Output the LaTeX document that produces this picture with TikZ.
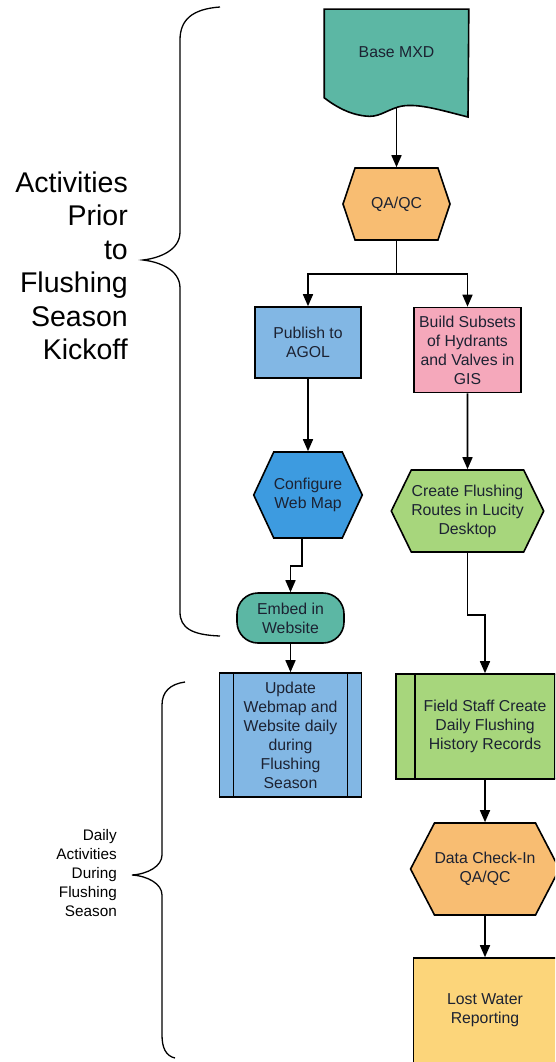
\documentclass[tikz,border=0pt]{standalone}
\usepackage{fontspec}
\setmainfont{Liberation Sans}
\usepackage{xcolor}
\usepackage{tikz}
\usetikzlibrary{shapes.symbols, arrows.meta, positioning, calc}
\definecolor{tealfill}{RGB}{92, 183, 164}
\definecolor{orangefill}{RGB}{248, 189, 114}
\definecolor{lightbluefill}{RGB}{130, 183, 228}
\definecolor{bluefill}{RGB}{61, 155, 224}
\definecolor{pinkfill}{RGB}{245, 168, 187}
\definecolor{greenfill}{RGB}{167, 214, 124}
\definecolor{yellowfill}{RGB}{252, 213, 122}
\definecolor{textdark}{RGB}{28, 34, 50}

\begin{document}
\begin{tikzpicture}[x=1pt, y=-1pt,
    flowbox/.style={
        rectangle, draw=black, line width=1.6pt, text=textdark,
        align=center, inner sep=0pt, font=\fontsize{15.8}{19}\selectfont
    },
    hexbox/.style={
        flowbox, shape=signal, signal to=west and east, signal pointer angle=#1
    },
    termbox/.style={flowbox, rounded corners=21pt},
    predbox/.style={
        flowbox,
        path picture={
            \draw [line width=1.6pt]
                ([xshift=#1]path picture bounding box.north west) --
                ([xshift=#1]path picture bounding box.south west)
                ([xshift=-#1]path picture bounding box.north east) --
                ([xshift=-#1]path picture bounding box.south east);
        }
    },
    sidelabel/.style={anchor=east, align=right, inner sep=0pt, text=black},
    brace/.style={draw=black, line width=1.3pt},
    arrow/.style={-{Triangle[length=12pt, width=10pt]}, line width=1.6pt}
]
    \useasboundingbox (0,0) rectangle (555,1062);
    \begin{scope}
    \clip (0,0) rectangle (555,1062);

    % base document
    \node [flowbox, draw=none, minimum width=143pt, minimum height=87pt] (base) at (396.5,53.5) {};
    \filldraw [fill=tealfill, line width=1.6pt]
        (base.south west) -- (base.north west) -- (base.north east) -- (468,117)
        .. controls (440,110) and (415,102) .. (398,107)
        .. controls (385,111) and (378,118) .. (365,116)
        .. controls (348,114) and (335,106) .. (base.south west) -- cycle;
    \node [text=textdark, font=\fontsize{15.8}{19}\selectfont] at (396.5,52) {Base MXD};

    \node [hexbox=143, fill=orangefill, minimum width=107pt, minimum height=72pt] (qa1) at (396.5,204) {QA/QC};

    \node [flowbox, fill=lightbluefill, minimum width=106pt, minimum height=71pt] (pub) at (308,342.5) {Publish to\\AGOL};
    \node [flowbox, fill=pinkfill, minimum width=107pt, minimum height=85pt] (build) at (467.5,350) {Build Subsets\\of Hydrants\\and Valves in\\GIS};

    \node [hexbox=130, fill=bluefill, minimum width=106pt, minimum height=86pt] (conf) at (308,495) {Configure\\Web Map};
    \node [hexbox=128, fill=greenfill, minimum width=143pt, minimum height=82pt] (crt) at (467.5,511) {Create Flushing\\Routes in Lucity\\Desktop};

    \node [termbox, fill=tealfill, minimum width=107pt, minimum height=50pt] (emb) at (290.5,618) {Embed in\\Website};

    \node [predbox=14pt, fill=lightbluefill, minimum width=142pt, minimum height=124pt] (upd) at (290.5,735) {Update\\Webmap and\\Website daily\\during\\Flushing\\Season};
    \node [predbox=19pt, fill=greenfill, minimum width=178pt, minimum height=105pt] (field) at (485,726.5) {Field Staff Create\\Daily Flushing\\History Records};

    \node [hexbox=125, fill=orangefill, minimum width=125pt, minimum height=92pt] (dat) at (485,869) {Data Check-In\\QA/QC};
    \node [flowbox, fill=yellowfill, minimum width=143pt, minimum height=105pt] (lost) at (485,1010.5) {Lost Water\\Reporting};

    \draw [arrow, shorten <=10pt] (base.south) -- (qa1.north);
    \draw [line width=1.6pt] (qa1.south) -- ++(0,33) coordinate (split);
    \draw [arrow] (split) -| (pub.north);
    \draw [arrow] (split) -| (build.north);
    \draw [arrow] (pub) -- (conf);
    \draw [arrow] (build) -- (crt);
    \draw [arrow] ([xshift=-6pt]conf.south) -- ++(0,27) -| (emb.north);
    \draw [arrow] (crt.south) -- ++(0,62) -| (field.north);
    \draw [arrow] (emb) -- (upd);
    \draw [arrow] (field) -- (dat);
    \draw [arrow] (dat) -- (lost);

    % braces and their labels
    \draw [brace] (220,7) .. controls (192,9) and (180,20) .. (180,40) -- (180,232)
        .. controls (180,250) and (160,258) .. (143,260)
        .. controls (160,262) and (180,270) .. (180,288) -- (180,612)
        .. controls (180,628) and (192,635) .. (220,636);
    \node [sidelabel, font=\fontsize{28.5}{33.5}\selectfont] (prior) at (128,266)
        {Activities\\Prior\\to\\Flushing\\Season\\Kickoff};

    \draw [brace] (185,682) .. controls (170,684) and (162,692) .. (162,705) -- (162,855)
        .. controls (162,866) and (148,874) .. (132,875)
        .. controls (148,876) and (162,884) .. (162,895) -- (162,1035)
        .. controls (162,1048) and (166,1056) .. (175,1058);
    \node [sidelabel, font=\fontsize{15.3}{19}\selectfont] (daily) at (117,873)
        {Daily\\Activities\\During\\Flushing\\Season};
    \end{scope}
\end{tikzpicture}
\end{document}
